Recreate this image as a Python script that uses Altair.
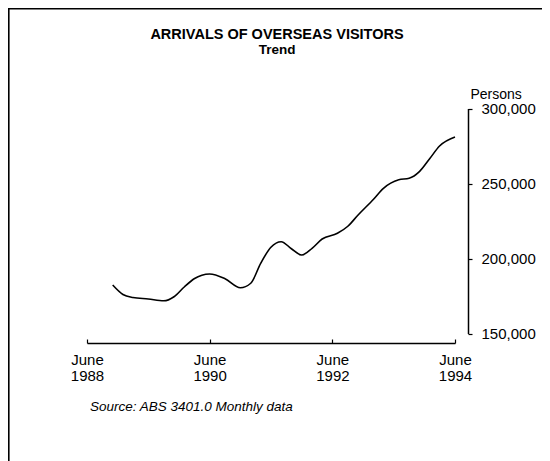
import altair as alt
import pandas as pd

# ---- data ----
dates = ["1988-11-01", "1989-01-01", "1989-03-01", "1989-06-01", "1989-09-01",
         "1989-11-01", "1990-01-01", "1990-03-01", "1990-06-01", "1990-09-01",
         "1990-12-01", "1991-02-01", "1991-04-01", "1991-06-01", "1991-08-01",
         "1991-10-01", "1991-12-01", "1992-02-01", "1992-04-01", "1992-07-01",
         "1992-09-01", "1992-11-01", "1993-02-01", "1993-04-01", "1993-07-01",
         "1993-09-01", "1993-11-01", "1994-01-01", "1994-03-01", "1994-06-01"]
visitors = [182300, 176000, 174000, 173000, 171800,
            174500, 181000, 186500, 189700, 186500,
            180500, 183500, 196800, 207500, 211200,
            206500, 202300, 206800, 213000, 216800,
            221500, 229000, 239500, 246800, 252500,
            253500, 257900, 266500, 275000, 281000]

x_tick_years = [1988, 1990, 1992, 1994]
y_ticks = [150000, 200000, 250000, 300000]
title_text = "ARRIVALS OF OVERSEAS VISITORS"
subtitle_text = "Trend"
y_title = "Persons"
source_text = "Source: ABS 3401.0 Monthly data"

FONT = "Liberation Sans"
W, H = 534, 453

df = pd.DataFrame({"date": dates, "visitors": visitors})

x_vals = [alt.DateTime(year=y, month=6, date=1, utc=True) for y in x_tick_years]
x_scale = alt.Scale(type="utc", domain=[x_vals[0], x_vals[-1]], range=[79, 447])
y_scale = alt.Scale(domain=[150000, 300000], range=[325.5, 100.5], nice=False, zero=False)

line = alt.Chart(df).mark_line(color="black", strokeWidth=1.6, interpolate="monotone").encode(
    x=alt.X("date:T", scale=x_scale,
            axis=alt.Axis(orient="top", offset=-335, values=x_vals, title=None, grid=False,
                          labelExpr="['June', utcFormat(datum.value, '%Y')]",
                          tickSize=4, labelBaseline="top", labelPadding=-13,
                          labelFlush=False, labelAlign="center", labelLineHeight=16,
                          labelFont=FONT, labelFontSize=15, labelColor="black",
                          domainColor="black", tickColor="black",
                          domainWidth=1.5, tickWidth=1.2)),
    y=alt.Y("visitors:Q", scale=y_scale,
            axis=alt.Axis(orient="right", offset=-74, values=y_ticks, format=",.0f", grid=False,
                          tickSize=4, labelPadding=9, labelFont=FONT, labelFontSize=15,
                          labelColor="black", domainColor="black", tickColor="black",
                          domainWidth=1.5, tickWidth=1.2,
                          title=y_title, titleAngle=0, titleX=2, titleY=86,
                          titleAlign="left", titleBaseline="middle",
                          titleFont=FONT, titleFontSize=14, titleFontWeight="normal",
                          titleColor="black")),
)

title_layer = alt.Chart(pd.DataFrame({"t": [title_text]})).mark_text(
    font=FONT, fontSize=14.5, fontWeight="bold", color="black",
    align="center", baseline="middle").encode(
    x=alt.value(269), y=alt.value(27), text="t:N")

subtitle_layer = alt.Chart(pd.DataFrame({"t": [subtitle_text]})).mark_text(
    font=FONT, fontSize=13.5, fontWeight="bold", color="black",
    align="center", baseline="middle").encode(
    x=alt.value(269), y=alt.value(41.5), text="t:N")

source_layer = alt.Chart(pd.DataFrame({"t": [source_text]})).mark_text(
    font=FONT, fontSize=13.5, fontStyle="italic", color="black",
    align="left", baseline="middle").encode(
    x=alt.value(82), y=alt.value(399), text="t:N")

frame_top = alt.Chart(pd.DataFrame({"k": [0]})).mark_rule(color="black", strokeWidth=1.6).encode(
    x=alt.value(0), x2=alt.value(W), y=alt.value(0.8))
frame_left = alt.Chart(pd.DataFrame({"k": [0]})).mark_rule(color="black", strokeWidth=1.6).encode(
    x=alt.value(0.8), y=alt.value(0), y2=alt.value(H))

chart = alt.layer(frame_top, frame_left, line, title_layer, subtitle_layer, source_layer).properties(
    width=W, height=H, padding=0,
    autosize=alt.AutoSizeParams(type="none"),
).configure_view(strokeWidth=0).configure(background="white")

chart.save("out.html", embed_options={"renderer": "svg", "actions": False})
